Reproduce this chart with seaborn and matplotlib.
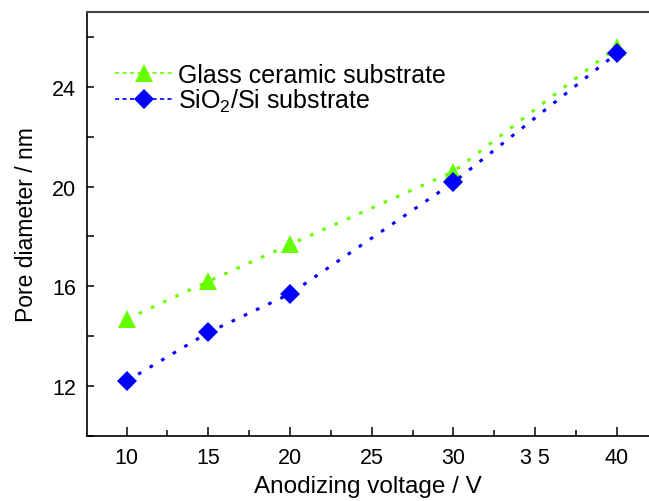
import matplotlib
matplotlib.use("Agg")
import matplotlib.pyplot as plt
from matplotlib.lines import Line2D
from matplotlib.ticker import MultipleLocator
import seaborn as sns
import pandas as pd

voltage = [10, 15, 20, 30, 40]
glass_ceramic = [14.68, 16.2, 17.68, 20.6, 25.6]
sio2_si = [12.2, 14.15, 15.7, 20.17, 25.35]
labels = ["Glass ceramic substrate", "SiO$_2$/Si substrate"]
xtick_labels = ["10", "15", "20", "25", "30", "3 5", "40"]
ytick_values = [12, 16, 20, 24]

df = pd.DataFrame({"voltage": voltage, "glass": glass_ceramic, "sio2": sio2_si})

sns.set_theme(style="white")
plt.rcParams["font.family"] = ["Liberation Sans", "DejaVu Sans"]
plt.rcParams["mathtext.fontset"] = "custom"
plt.rcParams["mathtext.rm"] = "Liberation Sans"
plt.rcParams["text.color"] = "black"

fig = plt.figure(figsize=(6.49, 5.02), dpi=100)
ax = fig.add_axes([87/649, 65/502, 1 - 87/649, (437-13)/502])

green = "#66ff00"
blue = "#0000ff"
dot = (0, (1.2, 3.2))

sns.lineplot(data=df, x="voltage", y="glass", ax=ax, color=green, marker="^",
             markersize=13, markeredgewidth=0, linestyle=dot, linewidth=2.2)
sns.lineplot(data=df, x="voltage", y="sio2", ax=ax, color=blue, marker="D",
             markersize=10.5, markeredgewidth=0, linestyle=dot, linewidth=2.2)

ax.set_xlim(7.58, 41.96)
ax.set_ylim(10, 27)
ax.xaxis.set_minor_locator(MultipleLocator(2.5))
ax.yaxis.set_minor_locator(MultipleLocator(2))
ax.set_yticks(ytick_values)
ax.set_xticks([10, 15, 20, 25, 30, 35, 40])
ax.set_xticklabels(xtick_labels)

ax.tick_params(axis="both", which="both", direction="in", width=1.1,
               color="black", labelsize=15.5, labelcolor="black")
ax.tick_params(axis="x", which="major", length=6.5, pad=8)
ax.tick_params(axis="x", which="minor", length=4)
ax.tick_params(axis="y", which="major", length=5, pad=8)
ax.tick_params(axis="y", which="minor", length=5)
ax.tick_params(axis="x", which="both", bottom=True, top=False)
ax.tick_params(axis="y", which="both", left=True, right=False)

for s in ["left", "bottom"]:
    ax.spines[s].set_color("black")
    ax.spines[s].set_linewidth(1.2)
ax.spines["top"].set_color("#444444")
ax.spines["top"].set_linewidth(1.5)
ax.spines["right"].set_visible(False)

ax.set_xlabel("Anodizing voltage / V", fontsize=17.5, color="black", labelpad=5)
ax.set_ylabel("Pore diameter / nm", fontsize=16.5, color="black", labelpad=10)

handles = [
    Line2D([], [], color=green, marker="^", markersize=13, markeredgewidth=0,
           linestyle=(0, (2.5, 2)), linewidth=1.2),
    Line2D([], [], color=blue, marker="D", markersize=10.5, markeredgewidth=0,
           linestyle=(0, (2.5, 2)), linewidth=1.2),
]
ax.legend(handles, labels, loc="upper left", bbox_to_anchor=(0.05, 0.88),
          frameon=False, fontsize=18, handlelength=2.3, handletextpad=0.2,
          labelspacing=0.0, borderpad=0, borderaxespad=0, labelcolor="black")

fig.savefig("out.png", dpi=100)
